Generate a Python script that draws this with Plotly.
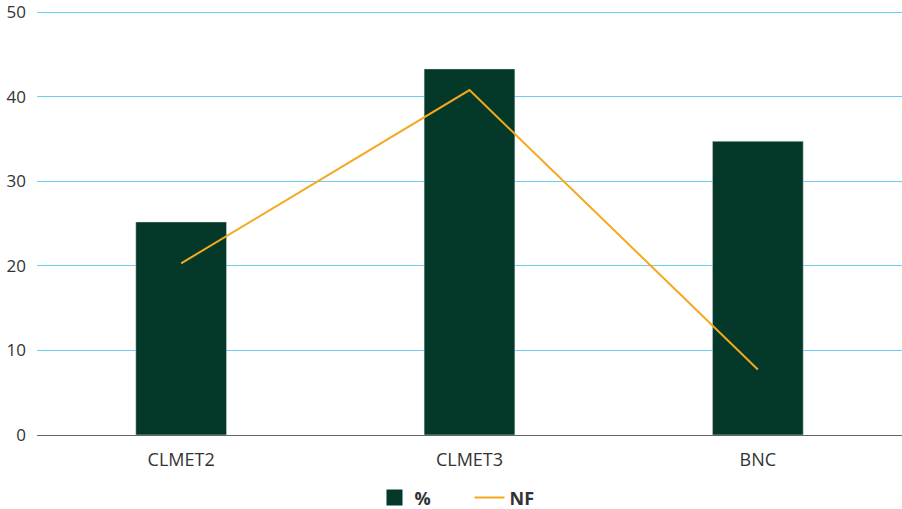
import plotly.graph_objects as go

categories = ["CLMET2", "CLMET3", "BNC"]
pct_values = [25.2, 43.3, 34.75]
nf_values = [20.3, 40.8, 7.75]
y_ticks = [0, 10, 20, 30, 40, 50]

bar_color = "#04392a"
line_color = "#f5a81e"

fig = go.Figure()
fig.add_trace(go.Bar(x=categories, y=pct_values, name="%", marker=dict(color=bar_color),
                     showlegend=False))
fig.add_trace(go.Scatter(x=[None], y=[None], name="%", mode="markers",
                         marker=dict(symbol="square", size=17, color=bar_color)))
fig.add_trace(go.Scatter(x=categories, y=nf_values, name="NF", mode="lines",
                         line=dict(color=line_color, width=2)))

fig.update_layout(
    width=902, height=509,
    margin=dict(l=37, r=0, t=8, b=74, autoexpand=False),
    plot_bgcolor="white", paper_bgcolor="white",
    bargap=0.685,
    font=dict(family="Open Sans, Lato, sans-serif", size=17, color="#333333"),
    showlegend=True,
    legend=dict(orientation="h", x=0.5, xanchor="center", y=-0.147, yanchor="middle",
                font=dict(size=18, color="#333333", family="Open Sans, sans-serif", weight="bold"),
                itemwidth=30, entrywidth=50, entrywidthmode="pixels"),
    xaxis=dict(showgrid=False, showline=False, ticks="", tickfont=dict(size=18),
               ticklabelstandoff=12),
    yaxis=dict(range=[0, 50.5], tickvals=y_ticks, showgrid=True, gridcolor="#6ccdf0",
               gridwidth=1, zeroline=True, zerolinecolor="#666666", zerolinewidth=1,
               ticks="", tickfont=dict(size=17), ticklabelstandoff=10),
)
fig.write_html("out.html")
